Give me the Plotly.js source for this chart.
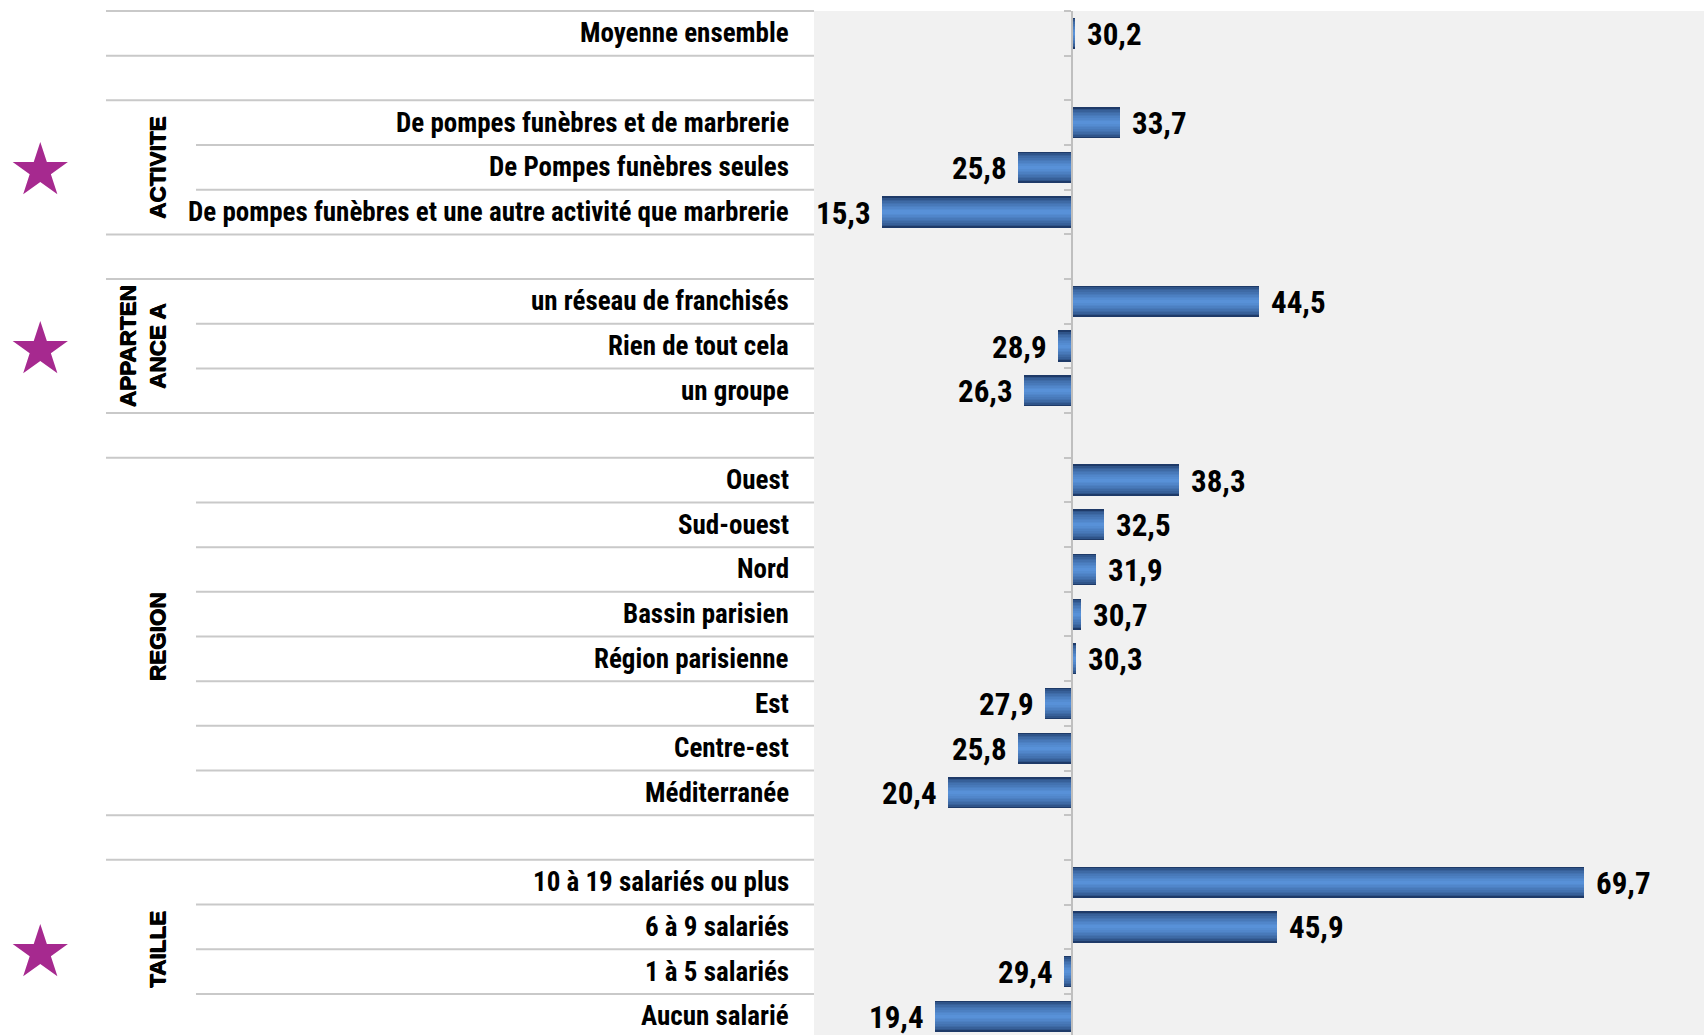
<!DOCTYPE html>
<html>
<head>
<meta charset="utf-8">
<script src="https://cdn.plot.ly/plotly-3.0.1.min.js"></script>
<style>
  html, body { margin: 0; padding: 0; background: #ffffff; }
  #chart { width: 1704px; height: 1035px; }
</style>
</head>
<body>
<div id="chart"></div>
<script>
// ---- Data ----
const meanLabel = 'Moyenne ensemble';
const meanValue = 30.2;

const groupNames = ['ACTIVITE', 'APPARTEN<br>ANCE A', 'REGION', 'TAILLE'];

const activiteCategories = ['De pompes funèbres et de marbrerie', 'De Pompes funèbres seules', 'De pompes funèbres et une autre activité que marbrerie'];
const activiteValues = [33.7, 25.8, 15.3];

const appartenanceCategories = ['un réseau de franchisés', 'Rien de tout cela', 'un groupe'];
const appartenanceValues = [44.5, 28.9, 26.3];

const regionCategories = ['Ouest', 'Sud-ouest', 'Nord', 'Bassin parisien', 'Région parisienne', 'Est', 'Centre-est', 'Méditerranée'];
const regionValues = [38.3, 32.5, 31.9, 30.7, 30.3, 27.9, 25.8, 20.4];

const tailleCategories = ['10 à 19 salariés ou plus', '6 à 9 salariés', '1 à 5 salariés', 'Aucun salarié'];
const tailleValues = [69.7, 45.9, 29.4, 19.4];

const starredGroups = [0, 1, 3];
const axisCrossing = 30;

// ---- Build rows ----
const groupCats = [activiteCategories, appartenanceCategories, regionCategories, tailleCategories];
const groupVals = [activiteValues, appartenanceValues, regionValues, tailleValues];

const rows = [{label: meanLabel, value: meanValue, group: -1}];
const groupSpans = [];
groupCats.forEach((cats, g) => {
  rows.push({label: null, value: null, group: null}); // spacer
  const first = rows.length;
  cats.forEach((c, i) => rows.push({label: c, value: groupVals[g][i], group: g}));
  groupSpans.push([first, rows.length - 1]);
});

const yRange = [22.42, -0.5];
const toPaperY = y => (yRange[0] - y) / (yRange[0] - yRange[1]);
const plotLeft = 814, plotWidth = 1704 - 814;
const toPaperX = px => (px - plotLeft) / plotWidth;

const barRows = rows.map((r, i) => ({...r, y: i})).filter(r => r.value !== null);
const ys = barRows.map(r => r.y);
const diffs = barRows.map(r => r.value - axisCrossing);

// ---- Gradient bars (stacked overlay layers) ----
const dark = [30, 58, 104], light = [88, 145, 216];
const N = 10;
const traces = [];
for (let k = 0; k < N; k++) {
  const t = Math.pow(k / (N - 1), 0.55);
  const c = dark.map((d, j) => Math.round(d + (light[j] - d) * t));
  traces.push({
    type: 'bar', orientation: 'h',
    y: ys, x: diffs, base: axisCrossing,
    width: 0.70 * (1 - k / N),
    marker: {color: `rgb(${c.join(',')})`, line: {width: 0}},
    hoverinfo: 'skip', showlegend: false
  });
}

const NARROW = "'Roboto Condensed', 'Liberation Sans Narrow', 'Arial Narrow', sans-serif";
const annotations = [];

// value labels
barRows.forEach(r => {
  const pos = r.value >= axisCrossing;
  annotations.push({
    x: r.value, y: r.y, xref: 'x', yref: 'y',
    text: r.value.toFixed(1).replace('.', ','),
    showarrow: false, xanchor: pos ? 'left' : 'right', yanchor: 'middle',
    xshift: pos ? 10 : -9, yshift: -1,
    font: {family: NARROW, size: 31, color: '#000', weight: 'bold'}
  });
});

// category labels
barRows.forEach(r => {
  annotations.push({
    x: toPaperX(791), y: r.y, xref: 'paper', yref: 'y',
    text: r.label, showarrow: false, xanchor: 'right', yanchor: 'middle',
    font: {family: NARROW, size: 27, color: '#000', weight: 'bold'}
  });
});

// group labels + stars
groupSpans.forEach((span, g) => {
  const center = (span[0] + span[1]) / 2;
  annotations.push({
    x: toPaperX(172), y: center, xref: 'paper', yref: 'y',
    text: '<b>' + groupNames[g].split('<br>').join('</b><br><b>') + '</b>',
    showarrow: false, textangle: -90,
    xanchor: 'right', yanchor: 'middle',
    font: {family: "'Liberation Sans', Arial, sans-serif", size: 22.5, color: '#000', weight: 'bold',
           shadow: '0.5px 0.5px 0 #000, -0.5px -0.5px 0 #000'}
  });
  if (starredGroups.includes(g)) {
    annotations.push({
      x: toPaperX(40), y: center, xref: 'paper', yref: 'y',
      text: '★', showarrow: false, xanchor: 'center', yanchor: 'middle', yshift: -2,
      font: {family: "'DejaVu Sans', sans-serif", size: 72, color: '#a6298f'}
    });
  }
});

// table lines
const shapes = [];
for (let b = 0; b <= rows.length; b++) {
  const above = rows[b - 1], below = rows[b];
  const inner = above && below && above.group !== null && below.group !== null && above.group >= 0 && above.group === below.group;
  const py = toPaperY(b - 0.5);
  shapes.push({
    type: 'line', xref: 'paper', yref: 'paper',
    x0: toPaperX(inner ? 196 : 106), x1: 0, y0: py, y1: py,
    line: {color: '#c9c9c9', width: 2}
  });
}

const boundaries = [];
for (let b = 0; b <= rows.length; b++) boundaries.push(b - 0.5);

const layout = {
  width: 1704, height: 1035,
  margin: {l: plotLeft, r: 0, t: 11, b: 0, pad: 0},
  paper_bgcolor: '#ffffff',
  plot_bgcolor: '#f1f1f1',
  barmode: 'overlay',
  bargap: 0,
  showlegend: false,
  xaxis: {range: [10, 79], showgrid: false, zeroline: false, showline: false, showticklabels: false, ticks: '', fixedrange: true},
  yaxis: {
    range: yRange, anchor: 'free', position: (axisCrossing - 10) / (79 - 10),
    showgrid: false, zeroline: false, showline: true, linecolor: '#bfbfbf', linewidth: 2,
    ticks: 'outside', ticklen: 7, tickwidth: 2, tickcolor: '#c4c4c4',
    tickmode: 'array', tickvals: boundaries, showticklabels: false, fixedrange: true
  },
  annotations: annotations,
  shapes: shapes
};

Plotly.newPlot('chart', traces, layout, {displayModeBar: false, staticPlot: true});
</script>
</body>
</html>
